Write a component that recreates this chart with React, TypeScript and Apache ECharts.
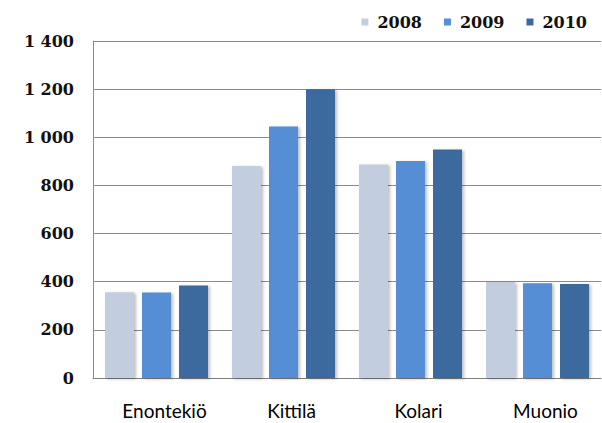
import React, { useEffect, useRef } from "react";
import * as echarts from "echarts";

const categories = ["Enontekiö", "Kittilä", "Kolari", "Muonio"];
const seriesNames = ["2008", "2009", "2010"];
const values2008 = [356, 881, 887, 399];
const values2009 = [355, 1045, 902, 394];
const values2010 = [384, 1200, 949, 390];
const colors = ["#C2CDDF", "#558ED5", "#3D6A9E"];
const yMin = 0;
const yMax = 1400;
const yStep = 200;

function fmt(v: number): string {
  if (v >= 1000) {
    const th = Math.floor(v / 1000);
    const rest = String(v % 1000).padStart(3, "0");
    return th + " " + rest;
  }
  return String(v);
}

export default function App() {
  const ref = useRef<HTMLDivElement>(null);
  useEffect(() => {
    if (!ref.current) return;
    const chart = echarts.init(ref.current, undefined, { renderer: "svg" });
    const data = [values2008, values2009, values2010];
    chart.setOption({
      animation: false,
      backgroundColor: "#ffffff",
      legend: {
        data: seriesNames,
        right: 10,
        top: 9,
        itemWidth: 7,
        itemHeight: 7,
        itemGap: 22,
        icon: "rect",
        textStyle: {
          fontFamily: "DejaVu Serif",
          fontWeight: "bold",
          fontSize: 16,
          color: "#111",
          padding: [0, 0, 0, 4],
        },
      },
      grid: { left: 93, right: 1, top: 41, bottom: 45 },
      xAxis: {
        type: "category",
        data: categories,
        axisLine: { show: true, lineStyle: { color: "#7f7f7f", width: 1 } },
        axisTick: { show: false },
        axisLabel: {
          fontFamily: "Lato",
          fontSize: 19,
          color: "#000",
          margin: 23,
          padding: [0, 0, 0, 16],
        },
      },
      yAxis: {
        type: "value",
        min: yMin,
        max: yMax,
        interval: yStep,
        axisLine: { show: true, lineStyle: { color: "#8a8a8a", width: 1 } },
        axisTick: { show: false },
        splitLine: { show: true, lineStyle: { color: "#8a8a8a", width: 1 } },
        axisLabel: {
          fontFamily: "DejaVu Serif",
          fontWeight: "bold",
          fontSize: 16,
          color: "#111",
          margin: 19,
          formatter: (v: number) => fmt(v),
        },
      },
      series: seriesNames.map((name, i) => ({
        name,
        type: "bar",
        data: data[i],
        barWidth: 29,
        barGap: "27.6%",
        itemStyle: {
          color: colors[i],
          shadowColor: "rgba(0,0,0,0.25)",
          shadowBlur: 3,
          shadowOffsetX: 2,
          shadowOffsetY: 1,
        },
      })),
    });
    return () => chart.dispose();
  }, []);
  return <div ref={ref} style={{ width: 602, height: 423, position: "absolute", left: 0, top: 0 }} />;
}
